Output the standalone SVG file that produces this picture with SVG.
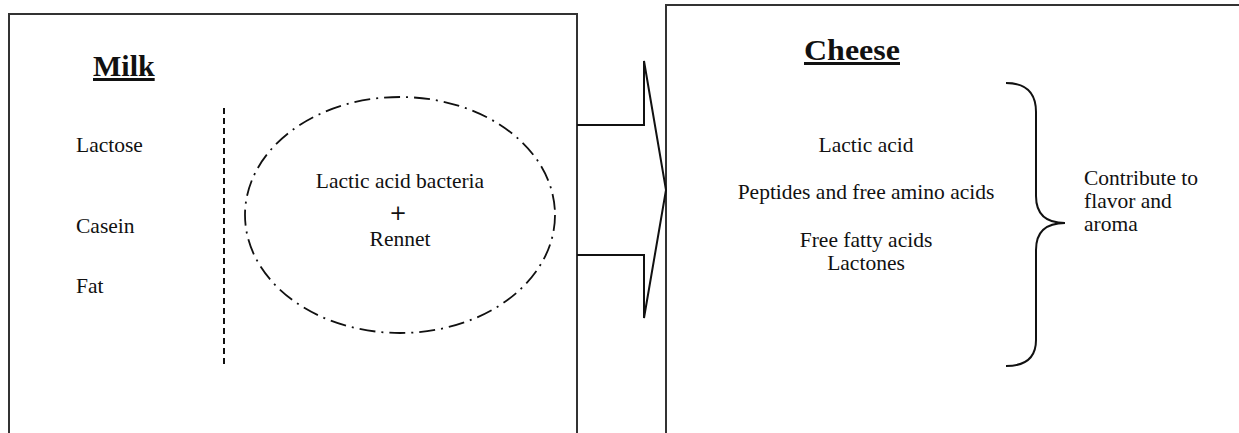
<svg xmlns="http://www.w3.org/2000/svg" width="1239" height="433" viewBox="0 0 1239 433">
<style>
.box{fill:#fff;stroke:#333;stroke-width:2}
.t{font-family:"Liberation Serif","Times New Roman",serif;font-size:21.5px;fill:#111}
.c{text-anchor:middle}
.h{font-family:"Liberation Serif","Times New Roman",serif;font-size:30px;font-weight:bold;text-decoration:underline;fill:#111}
.ln{fill:none;stroke:#111;stroke-width:2}
</style>
<g id="milk">
<rect class="box" x="9" y="14" width="568" height="440"/>
<text class="h" x="93" y="76">Milk</text>
<text class="t" x="76" y="152">Lactose</text>
<text class="t" x="76" y="233">Casein</text>
<text class="t" x="76" y="293">Fat</text>
<line x1="224" y1="108" x2="224" y2="364" stroke="#111" stroke-width="2" stroke-dasharray="6,4"/>
</g>
<g id="cultures">
<ellipse cx="400" cy="215" rx="155" ry="118" fill="none" stroke="#111" stroke-width="1.8" stroke-dasharray="16,6,2,6"/>
<text x="398" y="220" text-anchor="middle" font-family="'DejaVu Sans',sans-serif" font-size="21" fill="#111">+</text>
<text class="t c" x="400" y="188">Lactic acid bacteria</text>
<text class="t c" x="400" y="246">Rennet</text>
</g>
<g id="cheese">
<rect class="box" x="666" y="5" width="600" height="450"/>
<text class="h" x="804" y="60" textLength="96" lengthAdjust="spacingAndGlyphs">Cheese</text>
<text class="t c" x="866" y="152">Lactic acid</text>
<text class="t c" x="866" y="199">Peptides and free amino acids</text>
<text class="t c" x="866" y="247">Free fatty acids</text>
<text class="t c" x="866" y="270">Lactones</text>
</g>
<g id="note">
<text class="t" x="1084" y="185">Contribute to</text>
<text class="t" x="1084" y="208">flavor and</text>
<text class="t" x="1084" y="231">aroma</text>
</g>
<g id="connectors">
<polyline class="ln" points="577,125 644,125 644,61 666,190 644,318 644,255 577,255"/>
<path class="ln" d="M1006,83 C1026,83 1036,92 1036,112 L1036,196 C1036,214 1046,223 1065,223 C1046,223 1036,232 1036,250 L1036,340 C1036,358 1026,366 1006,366"/>
</g>
</svg>
